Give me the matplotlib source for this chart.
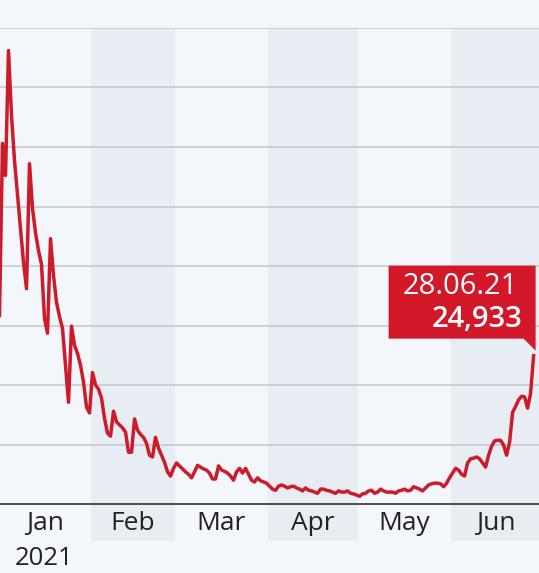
import pandas as pd
import matplotlib
matplotlib.use('Agg')
import matplotlib.pyplot as plt
import matplotlib.dates as mdates
from matplotlib.patches import Polygon

# Casos diários, 01.01.2021 a 28.06.2021
datas = pd.date_range('2021-01-01', '2021-06-28', freq='D')
casos = [
    31700, 60600, 55200, 76200, 65300, 57700, 51900, 46300, 40600, 36200,
    57200, 49700, 45600, 42600, 40300, 31200, 28700, 44600, 38400, 33900,
    31500, 29500, 23300, 17100, 29900, 26700, 25300, 23300, 20500, 16300,
    15300, 22100, 20000, 19300, 17800, 14400, 11900, 11400, 15600, 13800,
    13300, 12800, 12100, 8700, 8700, 14300, 12400, 11700, 11200, 10200,
    8200, 7900, 11200, 9400, 8200, 7000, 5400, 4700, 6000, 6900,
    6400, 5900, 5400, 5000, 4400, 5400, 6500, 6200, 5900, 5700,
    5200, 4200, 4200, 6400, 5700, 5500, 5200, 4700, 4000, 5400,
    6000, 5200, 6000, 5000, 4000, 3700, 4400, 3900, 3700, 3500,
    3000, 2500, 2300, 3000, 3200, 3000, 2700, 2900, 3000, 2700,
    2500, 2200, 2700, 2300, 2200, 2000, 1800, 2500, 2500, 2300,
    2200, 2000, 1800, 2200, 2000, 2000, 2200, 1800, 1700, 1500,
    1300, 1700, 1800, 2200, 2300, 1800, 2000, 2500, 2200, 2000,
    2000, 2000, 1800, 2200, 2300, 2500, 2200, 2300, 2900, 2700,
    2500, 2200, 2700, 3200, 3400, 3500, 3500, 3400, 2900, 3500,
    4400, 5200, 6000, 5700, 5000, 4700, 6900, 7600, 7700, 7900,
    7600, 6900, 6200, 8200, 9700, 10600, 10700, 10700, 9900, 8200,
    10400, 15400, 16400, 17500, 18100, 18000, 16100, 18600, 24933,
]
meses = ['Jan', 'Feb', 'Mar', 'Apr', 'May', 'Jun']
ano = '2021'
grade = [10000, 20000, 30000, 40000, 50000, 60000, 70000, 80000]

fundo = '#f3f6fa'
faixa = '#e8edf4'
vermelho = '#cc1b2b'

plt.rcParams['font.family'] = ['Open Sans', 'DejaVu Sans']

fig = plt.figure(figsize=(5.39, 5.73), dpi=100, facecolor=fundo)
ax = fig.add_axes([0, 1 - 504 / 573, 1, 476 / 573])
ax.set_facecolor(fundo)

inicio = datas[0]
ax.set_xlim(inicio + pd.Timedelta(hours=4), inicio + pd.Timedelta(days=179.8))
ax.set_ylim(0, 80000)

# faixas dos meses alternados (fev, abr, jun), descem até os rótulos
meio = pd.Timedelta(hours=12)
limites = pd.date_range('2021-01-01', '2021-07-01', freq='MS')
for i in range(len(meses)):
    a = limites[i] - meio
    b = limites[i + 1] - meio
    if i % 2 == 1:
        ax.axvspan(a, b, ymin=-0.078, ymax=1, color=faixa, lw=0,
                   clip_on=False, zorder=0)
    centro = limites[i] + (limites[i + 1] - limites[i]) / 2 - meio
    ax.text(centro, -0.055, meses[i], transform=ax.get_xaxis_transform(),
            ha='center', va='baseline', fontsize=19, color='#222222')
    if i == 0:
        ax.text(centro, -0.128, ano, transform=ax.get_xaxis_transform(),
                ha='center', va='baseline', fontsize=18.5, color='#222222')

for g in grade:
    ax.axhline(g, color='#c3c7cc', lw=1.1, zorder=1)
ax.axhline(0, color='#333333', lw=1.2, zorder=3, clip_on=False)

ax.plot(datas, casos, color=vermelho, lw=2.5, zorder=4,
        solid_joinstyle='round')

for s in ax.spines.values():
    s.set_visible(False)
ax.set_xticks([])
ax.set_yticks([])

# caixa com o último valor
px, py = ax.transData.transform((mdates.date2num(datas[-1]), casos[-1]))
caixa = [(-145, 90), (2, 90), (2, 5), (-10, 17), (-145, 17)]
caixa = [(px + dx, py + dy) for dx, dy in caixa]
fig.patches.append(Polygon(caixa, closed=True, transform=None,
                           facecolor='#d3182a', edgecolor='none', zorder=5))
fig.text((px - 16) / fig.bbox.width, (py + 62) / fig.bbox.height,
         datas[-1].strftime('%d.%m.%y'), ha='right', va='baseline',
         fontsize=21, color='white', zorder=6)
fig.text((px - 11) / fig.bbox.width, (py + 29) / fig.bbox.height,
         f'{casos[-1]:,}', ha='right', va='baseline',
         fontsize=21, fontweight='semibold', color='white', zorder=6)

fig.savefig('out.png', dpi=100, facecolor=fundo)
